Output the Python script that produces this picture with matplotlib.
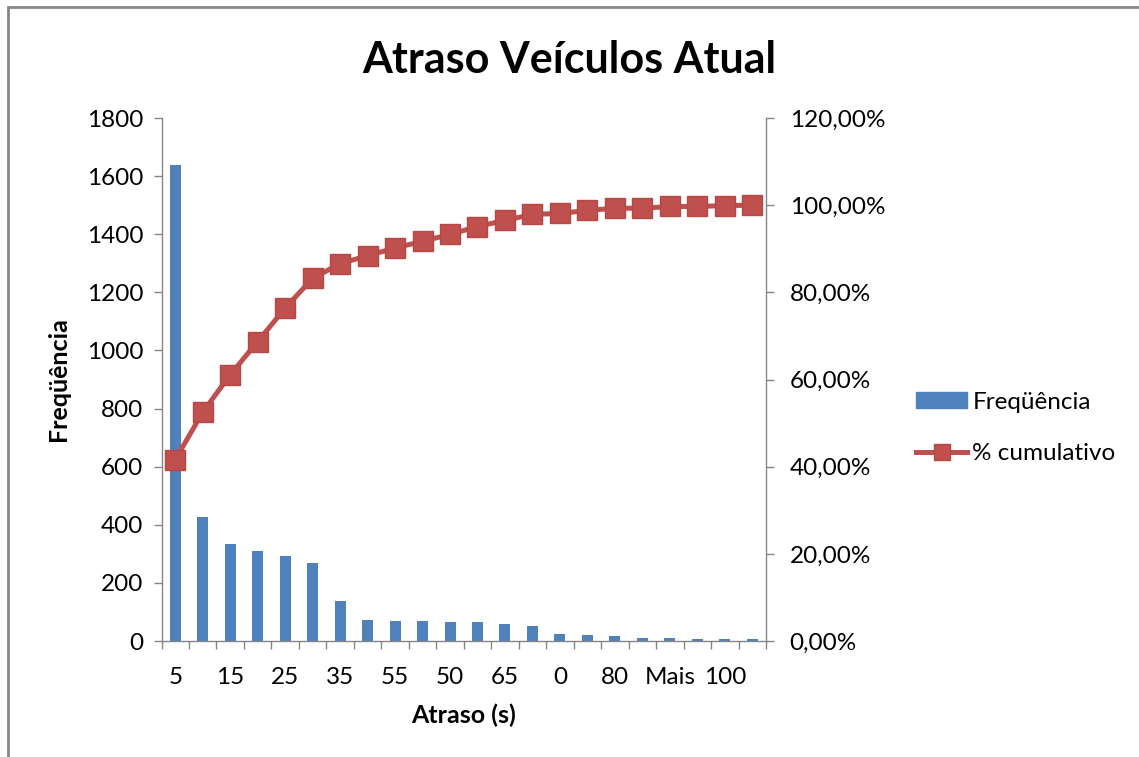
import matplotlib
matplotlib.use("Agg")
import matplotlib.pyplot as plt
from matplotlib.patches import Rectangle, Patch
from matplotlib.lines import Line2D
from matplotlib.ticker import FuncFormatter, FixedLocator
import numpy as np

plt.rcParams['font.family'] = ['Lato', 'DejaVu Sans']

# classes de atraso (ordenadas por frequencia)
classes = ["5", "10", "15", "20", "25", "30", "35", "40", "55", "45", "50",
           "60", "65", "70", "0", "75", "80", "85", "Mais", "90", "100", "95"]
frequencia = [1637, 427, 334, 311, 294, 268, 139, 74, 68, 68, 64,
              64, 60, 50, 25, 20, 16, 12, 10, 7, 6, 6]
cumulativo = [41.6, 52.5, 61.1, 68.7, 76.4, 83.2, 86.6, 88.4, 90.2, 91.7, 93.3,
              95.1, 96.5, 97.9, 98.1, 98.8, 99.3, 99.3, 99.7, 99.7, 99.9, 100.0]

azul = '#4F81BD'
vermelho = '#C0504D'
cinza = '#868686'

fig = plt.figure(figsize=(11.39, 7.57), dpi=100)
ax = fig.add_axes([0.1418, 0.1532, 0.5307, 0.6909])
ax2 = ax.twinx()

x = np.arange(len(classes))
ax.bar(x, frequencia, width=0.4, color=azul, zorder=2)
ax2.plot(x, cumulativo, color=vermelho, lw=3.6, marker='s', ms=15,
         mfc=vermelho, mec='#B54744', mew=1, zorder=3)

ax.set_xlim(-0.5, len(classes) - 0.5)
ax.set_ylim(0, 1800)
ax.set_yticks(range(0, 1801, 200))
ax2.set_ylim(0, 120)
ax2.set_yticks(range(0, 121, 20))
ax2.yaxis.set_major_formatter(FuncFormatter(lambda v, p: f"{v:.2f}%".replace('.', ',')))

# rotulos a cada duas classes, marcas nos limites das classes
ax.set_xticks(x[::2])
ax.set_xticklabels(classes[::2])
ax.xaxis.set_minor_locator(FixedLocator(np.arange(-0.5, len(classes), 1)))
ax.tick_params(axis='x', which='major', length=0, pad=19, labelsize=17.5)
ax.tick_params(axis='x', which='minor', length=6, color=cinza, width=1)
ax.tick_params(axis='y', length=6, color=cinza, width=1, pad=7, labelsize=17.5)
ax2.tick_params(axis='y', length=6, color=cinza, width=1, pad=11, labelsize=17.5)

for a in (ax, ax2):
    a.spines['top'].set_visible(False)
    for s in ('left', 'right', 'bottom'):
        a.spines[s].set_color(cinza)
        a.spines[s].set_linewidth(1)
ax.spines['right'].set_visible(False)
ax2.spines['left'].set_visible(False)
ax2.spines['bottom'].set_visible(False)

ax.set_xlabel("Atraso (s)", fontsize=18, fontweight='bold', labelpad=11)
ax.set_ylabel("Freqüência", fontsize=18, fontweight='bold', labelpad=12)
fig.text(0.5, 0.921, "Atraso Veículos Atual", ha='center', va='center',
         fontsize=31, fontweight='bold')

handles = [Patch(color=azul, label='Freqüência'),
           Line2D([], [], color=vermelho, lw=3.6, marker='s', ms=12,
                  mfc=vermelho, mec='#B54744', label='% cumulativo')]
fig.legend(handles=handles, loc='center left', bbox_to_anchor=(0.796, 0.435),
           frameon=False, fontsize=17.5, handlelength=2.1, handleheight=0.65,
           handletextpad=0.2, labelspacing=1.25, borderaxespad=0)

# moldura do grafico
fig.patches.append(Rectangle((8 / 1139, -0.02), 1.1, 1 - 7 / 757 + 0.02,
                             transform=fig.transFigure, fill=False,
                             edgecolor='#878787', lw=2))

fig.savefig("out.png", dpi=100)
